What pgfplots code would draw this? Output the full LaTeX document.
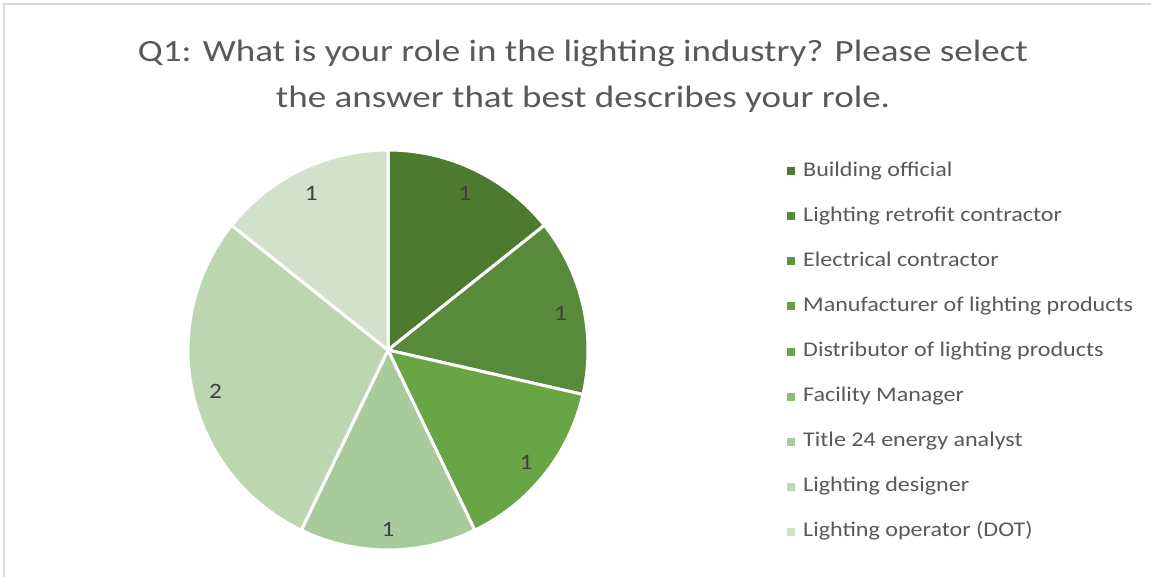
\documentclass[border=0pt]{standalone}
\usepackage{pgfplots}
\pgfplotsset{compat=1.18}
\usepackage{fontspec}
\setmainfont{Carlito}
\newfontfamily\titlefont[FakeStretch=1.2]{Carlito}
\newfontfamily\legfont[FakeStretch=1.15]{Carlito}
\definecolor{c1}{HTML}{4C7A2F}
\definecolor{c2}{HTML}{578A3A}
\definecolor{c3}{HTML}{5E9640}
\definecolor{c4}{HTML}{65A043}
\definecolor{c5}{HTML}{6AA545}
\definecolor{c6}{HTML}{8DBC79}
\definecolor{c7}{HTML}{A9CA9A}
\definecolor{c8}{HTML}{BDD6B2}
\definecolor{c9}{HTML}{D1E1CA}
\definecolor{txt}{HTML}{595959}
\definecolor{lbltxt}{HTML}{404040}
\definecolor{frame}{HTML}{D9D9D9}
% value / colour, in legend order (total 7)
\def\piedata{1/c1,1/c2,0/c3,0/c4,1/c5,0/c6,1/c7,2/c8,1/c9}
\def\pietotal{7}
\tikzset{lbl/.style={font=\legfont\fontsize{22}{26}\selectfont, text=lbltxt, inner sep=0pt, yshift=-2.5bp}}
\begin{document}
\begin{tikzpicture}
\useasboundingbox (0,0) rectangle (1151bp,577bp);
\fill[white] (0,0) rectangle (1151bp,577bp);
\draw[frame, line width=2bp] (4bp,0) -- (4bp,573bp) -- (1151bp,573bp);
\node[anchor=base, font=\titlefont\fontsize{31}{36}\selectfont, text=txt] at (583bp,515bp) {Q1: What is your role in the lighting industry? Please select};
\node[anchor=base, font=\titlefont\fontsize{31}{36}\selectfont, text=txt] at (583bp,469bp) {the answer that best describes your role.};
\begin{axis}[
  hide axis, x=200bp, y=200bp,
  xmin=-1, xmax=1, ymin=-1, ymax=1,
  at={(388bp,227bp)}, anchor=center, clip=false,
  legend cell align=left,
  legend image code/.code={\fill[#1, draw=none] (0bp,-4bp) rectangle (8bp,4bp);},
  legend style={draw=none, fill=none, inner sep=0pt,
    at={(axis description cs:1.4975,0.9725)}, anchor=north west,
    font=\legfont\fontsize{21}{25}\selectfont, text=txt,
    row sep=25.1bp, column sep=8bp,
    nodes={inner sep=0pt, text height=15bp, text depth=5bp}},
]
\addlegendimage{fill=c1}\addlegendentry{Building official}
\addlegendimage{fill=c2}\addlegendentry{Lighting retrofit contractor}
\addlegendimage{fill=c3}\addlegendentry{Electrical contractor}
\addlegendimage{fill=c4}\addlegendentry{Manufacturer of lighting products}
\addlegendimage{fill=c5}\addlegendentry{Distributor of lighting products}
\addlegendimage{fill=c6}\addlegendentry{Facility Manager}
\addlegendimage{fill=c7}\addlegendentry{Title 24 energy analyst}
\addlegendimage{fill=c8}\addlegendentry{Lighting designer}
\addlegendimage{fill=c9}\addlegendentry{Lighting operator (DOT)}
\xdef\angA{90}
\foreach \v/\c in \piedata {
  \ifnum\v>0
    \pgfmathsetmacro\angB{\angA-\v*360/\pietotal}
    \pgfmathsetmacro\angM{(\angA+\angB)/2}
    \edef\temp{%
      \noexpand\fill[\c, draw=white, line width=3bp, line join=round]
        (axis cs:0,0) -- (axis cs:{cos(\angA)},{sin(\angA)})
        arc[start angle=\angA, end angle=\angB, radius=200bp] -- cycle;
      \noexpand\node[lbl] at (axis cs:{0.885*cos(\angM)},{0.885*sin(\angM)}) {\v};
    }\temp
    \xdef\angA{\angB}
  \fi
}
\end{axis}
\end{tikzpicture}
\end{document}
